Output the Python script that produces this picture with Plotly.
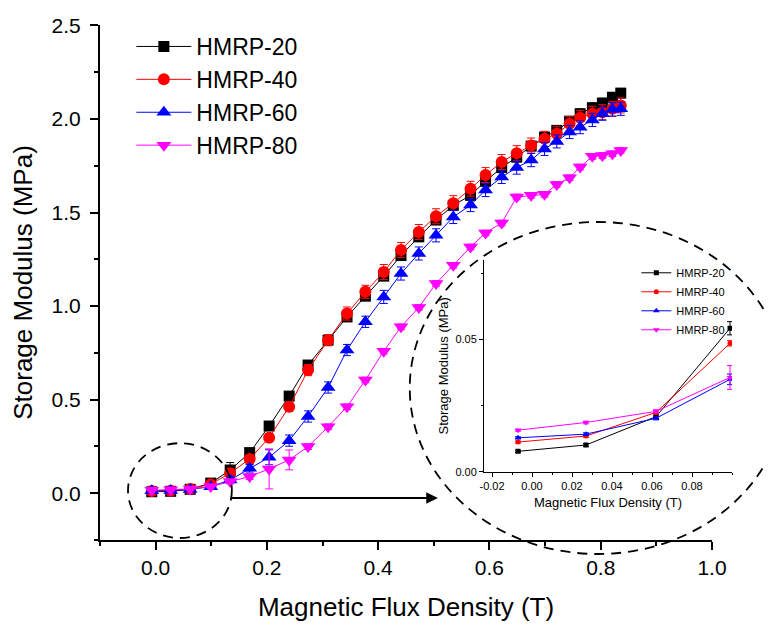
import plotly.graph_objects as go

# ---------------- data ----------------
x_flux = [-0.007, 0.027, 0.062, 0.099, 0.134, 0.169, 0.204, 0.240, 0.274, 0.310,
          0.344, 0.377, 0.410, 0.441, 0.473, 0.504, 0.535, 0.566, 0.593, 0.622,
          0.649, 0.675, 0.699, 0.721, 0.744, 0.763, 0.785, 0.803, 0.821, 0.836]

series_names = ["HMRP-20", "HMRP-40", "HMRP-60", "HMRP-80"]

y_hmrp20 = [0.0077, 0.0101, 0.0208, 0.0542, 0.124, 0.217, 0.359, 0.519, 0.685, 0.818,
            0.942, 1.053, 1.160, 1.270, 1.370, 1.460, 1.538, 1.592, 1.667, 1.740,
            1.796, 1.855, 1.903, 1.939, 1.988, 2.028, 2.060, 2.085, 2.116, 2.138]
y_hmrp40 = [0.0112, 0.0135, 0.0224, 0.0485, 0.107, 0.183, 0.297, 0.462, 0.658, 0.818,
            0.960, 1.076, 1.182, 1.300, 1.396, 1.480, 1.550, 1.627, 1.700, 1.770,
            1.817, 1.858, 1.894, 1.921, 1.974, 2.006, 2.028, 2.036, 2.054, 2.072]
y_hmrp60 = [0.0128, 0.0142, 0.0202, 0.0349, 0.071, 0.133, 0.192, 0.281, 0.410, 0.565,
            0.765, 0.916, 1.049, 1.174, 1.281, 1.378, 1.476, 1.540, 1.620, 1.690,
            1.740, 1.780, 1.840, 1.880, 1.930, 1.956, 1.995, 2.028, 2.050, 2.054]
y_hmrp80 = [0.0157, 0.0186, 0.0228, 0.0356, 0.062, 0.089, 0.130, 0.178, 0.249, 0.355,
            0.462, 0.605, 0.759, 0.889, 0.993, 1.121, 1.218, 1.316, 1.391, 1.444,
            1.583, 1.592, 1.597, 1.650, 1.686, 1.743, 1.800, 1.805, 1.814, 1.832]

err_hmrp20 = [0.0004, 0.0005, 0.0006, 0.0025, 0.040, 0.015, 0.015, 0.015, 0.020, 0.020,
              0.020, 0.020, 0.020, 0.020, 0.025, 0.025, 0.025, 0.025, 0.025, 0.025,
              0.025, 0.025, 0.025, 0.025, 0.025, 0.025, 0.025, 0.025, 0.025, 0.025]
err_hmrp40 = [0.0004, 0.0005, 0.0006, 0.0010, 0.020, 0.020, 0.020, 0.025, 0.030, 0.030,
              0.035, 0.035, 0.040, 0.040, 0.040, 0.040, 0.040, 0.040, 0.040, 0.040,
              0.040, 0.040, 0.040, 0.040, 0.040, 0.040, 0.040, 0.040, 0.040, 0.040]
err_hmrp60 = [0.0004, 0.0005, 0.0006, 0.0020, 0.020, 0.020, 0.040, 0.030, 0.030, 0.030,
              0.030, 0.030, 0.035, 0.035, 0.035, 0.035, 0.035, 0.035, 0.035, 0.035,
              0.035, 0.035, 0.035, 0.035, 0.035, 0.035, 0.035, 0.035, 0.035, 0.035]
err_hmrp80 = [0.0004, 0.0005, 0.0006, 0.0045, 0.010, 0.015, 0.107, 0.053, 0.015, 0.015,
              0.015, 0.015, 0.015, 0.015, 0.015, 0.015, 0.015, 0.015, 0.015, 0.015,
              0.015, 0.015, 0.015, 0.015, 0.015, 0.015, 0.015, 0.015, 0.015, 0.015]

main_x_ticks = [0.0, 0.2, 0.4, 0.6, 0.8, 1.0]
main_y_ticks = [0.0, 0.5, 1.0, 1.5, 2.0, 2.5]
inset_x_ticks = [-0.02, 0.0, 0.02, 0.04, 0.06, 0.08]
inset_x_labels = ["-0.02", "0.00", "0.02", "0.04", "0.06", "0.08"]
inset_y_ticks = [0.0, 0.05]
n_inset = 4  # first points shown in the zoomed inset

# ---------------- style ----------------
FONT = "Liberation Sans, Arial, sans-serif"
colors = ["#000000", "#FF0000", "#0000FF", "#FF00FF"]
symbols = ["square", "circle", "triangle-up", "triangle-down"]
main_sizes = [11, 12, 13, 13]
inset_sizes = [5, 5, 6, 6]

all_y = [y_hmrp20, y_hmrp40, y_hmrp60, y_hmrp80]
all_err = [err_hmrp20, err_hmrp40, err_hmrp60, err_hmrp80]

fig = go.Figure()

for name, ys, es, c, s, sz in zip(series_names, all_y, all_err, colors, symbols, main_sizes):
    fig.add_trace(go.Scatter(
        x=x_flux, y=ys, name=name, mode="lines+markers",
        line=dict(color=c, width=1),
        marker=dict(symbol=s, size=sz, color=c),
        error_y=dict(type="data", array=es, color=c, thickness=1, width=4),
        legend="legend",
    ))

for name, ys, es, c, s, sz in zip(series_names, all_y, all_err, colors, symbols, inset_sizes):
    fig.add_trace(go.Scatter(
        x=x_flux[:n_inset], y=ys[:n_inset], name=name, mode="lines+markers",
        xaxis="x2", yaxis="y2",
        line=dict(color=c, width=1),
        marker=dict(symbol=s, size=sz, color=c),
        error_y=dict(type="data", array=es[:n_inset], color=c, thickness=1, width=3),
        legend="legend2",
    ))

axis_common = dict(showgrid=False, zeroline=False, showline=True, linecolor="black",
                   ticks="outside", tickcolor="black", automargin=False)

# the page body adds an 8px offset, so the figure is 8px smaller and shifted
fig.update_layout(
    width=764, height=618,
    margin=dict(l=92, r=32, t=17, b=86),
    paper_bgcolor="white", plot_bgcolor="white",
    font=dict(family=FONT, color="black"),
    xaxis=dict(**axis_common, domain=[0, 0.95625], anchor="y",
               range=[-0.1, 1.0], tickvals=main_x_ticks, tickformat=".1f",
               linewidth=2, ticklen=8, tickwidth=1.5,
               minor=dict(ticks="outside", ticklen=4, tickwidth=1.5, tickcolor="black",
                          tick0=0, dtick=0.1),
               tickfont=dict(size=21),
               title=dict(text="Magnetic Flux Density (T)", font=dict(size=26), standoff=20)),
    yaxis=dict(**axis_common, domain=[0, 1], anchor="x",
               range=[-0.25, 2.502], tickvals=main_y_ticks, tickformat=".1f",
               linewidth=2, ticklen=8, tickwidth=1.5, ticklabelstandoff=5,
               minor=dict(ticks="outside", ticklen=4, tickwidth=1.5, tickcolor="black",
                          tick0=0, dtick=0.25),
               tickfont=dict(size=21),
               title=dict(text="Storage Modulus (MPa)", font=dict(size=26), standoff=14)),
    xaxis2=dict(**axis_common, domain=[0.6, 0.9875], anchor="y2",
                range=[-0.024, 0.1], tickvals=inset_x_ticks, ticktext=inset_x_labels,
                linewidth=1, ticklen=4, tickwidth=1,
                minor=dict(ticks="outside", ticklen=2, tickwidth=1, tickcolor="black",
                           tick0=0, dtick=0.01),
                tickfont=dict(size=11),
                title=dict(text="Magnetic Flux Density (T)", font=dict(size=13), standoff=6)),
    yaxis2=dict(**axis_common, domain=[0.1326, 0.5437], anchor="x2",
                range=[0, 0.08], tickvals=inset_y_ticks, tickformat=".2f",
                linewidth=1, ticklen=4, tickwidth=1,
                minor=dict(ticks="outside", ticklen=2, tickwidth=1, tickcolor="black",
                           tick0=0, dtick=0.025),
                tickfont=dict(size=11),
                title=dict(text="Storage Modulus (MPa)", font=dict(size=13), standoff=3)),
    legend=dict(x=0.049, y=1.0, xanchor="left", yanchor="top", itemwidth=55,
                font=dict(size=23), bgcolor="rgba(0,0,0,0)", tracegroupgap=0),
    legend2=dict(x=0.838, y=0.547, xanchor="left", yanchor="top",
                 font=dict(size=11), bgcolor="rgba(0,0,0,0)", tracegroupgap=0),
    shapes=[
        dict(type="circle", xref="paper", yref="paper",
             x0=0.04375, x1=0.206, y0=0.0039, y1=0.188,
             line=dict(color="black", width=1.8, dash="10px,7px")),
        dict(type="circle", xref="paper", yref="paper",
             x0=0.484, x1=1.072, y0=-0.0272, y1=0.6175,
             line=dict(color="black", width=1.8, dash="10px,7px")),
    ],
    annotations=[
        dict(xref="paper", yref="paper", x=0.528, y=0.0816, text="",
             showarrow=True, ax=-208, ay=0, arrowhead=2, arrowsize=1.3,
             arrowwidth=1.8, arrowcolor="black"),
    ],
)

fig.write_html("out.html")
